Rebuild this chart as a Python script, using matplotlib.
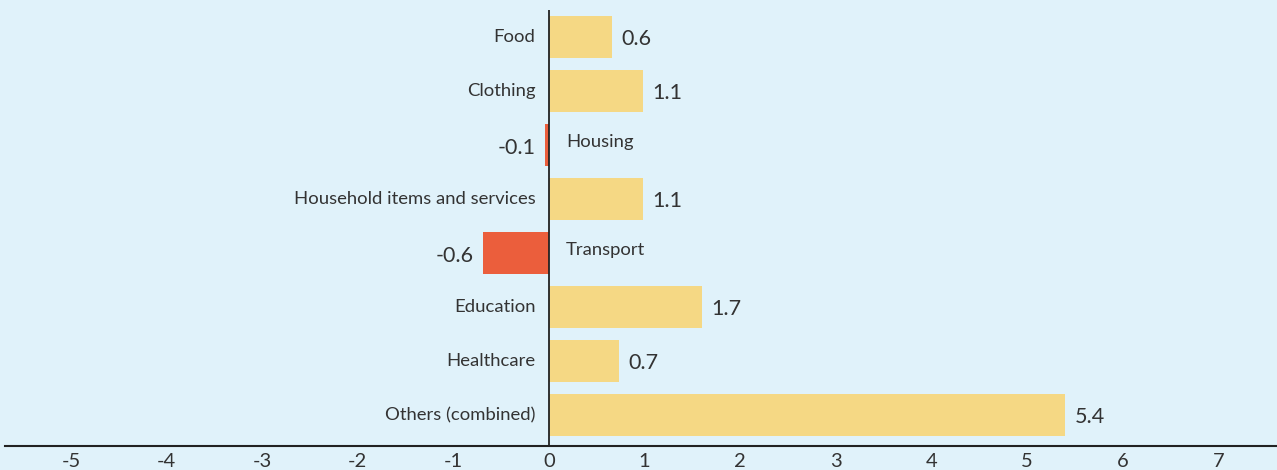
import matplotlib.pyplot as plt

categories = ["Food", "Clothing", "Housing", "Household items and services",
              "Transport", "Education", "Healthcare", "Others (combined)"]
values = [0.6, 1.1, -0.1, 1.1, -0.6, 1.7, 0.7, 5.4]
bar_lengths = [0.66, 0.98, -0.04, 0.98, -0.69, 1.6, 0.73, 5.4]
xticks = [-5, -4, -3, -2, -1, 0, 1, 2, 3, 4, 5, 6, 7]

BG = "#e0f2fa"
YELLOW = "#f5d884"
RED = "#eb5e3c"
TXT = "#333333"

plt.rcParams["font.family"] = ["Lato", "DejaVu Sans"]

fig = plt.figure(figsize=(12.77, 4.70), dpi=100, facecolor=BG)
ax = fig.add_axes([5 / 1277, 24 / 470, 1 - 5 / 1277, 436 / 470])
ax.set_facecolor(BG)

ypos = list(range(len(categories)))
colors = [YELLOW if v >= 0 else RED for v in values]
ax.barh(ypos, bar_lengths, height=0.76, color=colors, zorder=2)
ax.axvline(0, color="#222222", lw=1.3, zorder=3)

for y, cat, v, b in zip(ypos, categories, values, bar_lengths):
    if v >= 0:
        ax.text(-0.14, y, cat, ha="right", va="center", fontsize=13.3, color=TXT)
        ax.text(b + 0.1, y + 0.03, f"{v:.1f}", ha="left", va="center", fontsize=15.5, color=TXT)
    else:
        ax.text(0.18, y - 0.05, cat, ha="left", va="center", fontsize=13.3, color=TXT)
        ax.text(b - 0.1, y + 0.05, f"{v:.1f}", ha="right", va="center", fontsize=15.5, color=TXT)

ax.set_xlim(-5.69, 7.615)
ax.set_ylim(7.574, -0.5)
ax.set_yticks([])
ax.set_xticks(xticks)
ax.set_xticklabels([str(t) for t in xticks])
ax.tick_params(axis="x", length=0, pad=5, labelsize=14.5, labelcolor=TXT)
for s in ["top", "right", "left"]:
    ax.spines[s].set_visible(False)
ax.spines["bottom"].set_color("#222222")
ax.spines["bottom"].set_linewidth(1.5)

fig.savefig("out.png", dpi=100, facecolor=BG)
